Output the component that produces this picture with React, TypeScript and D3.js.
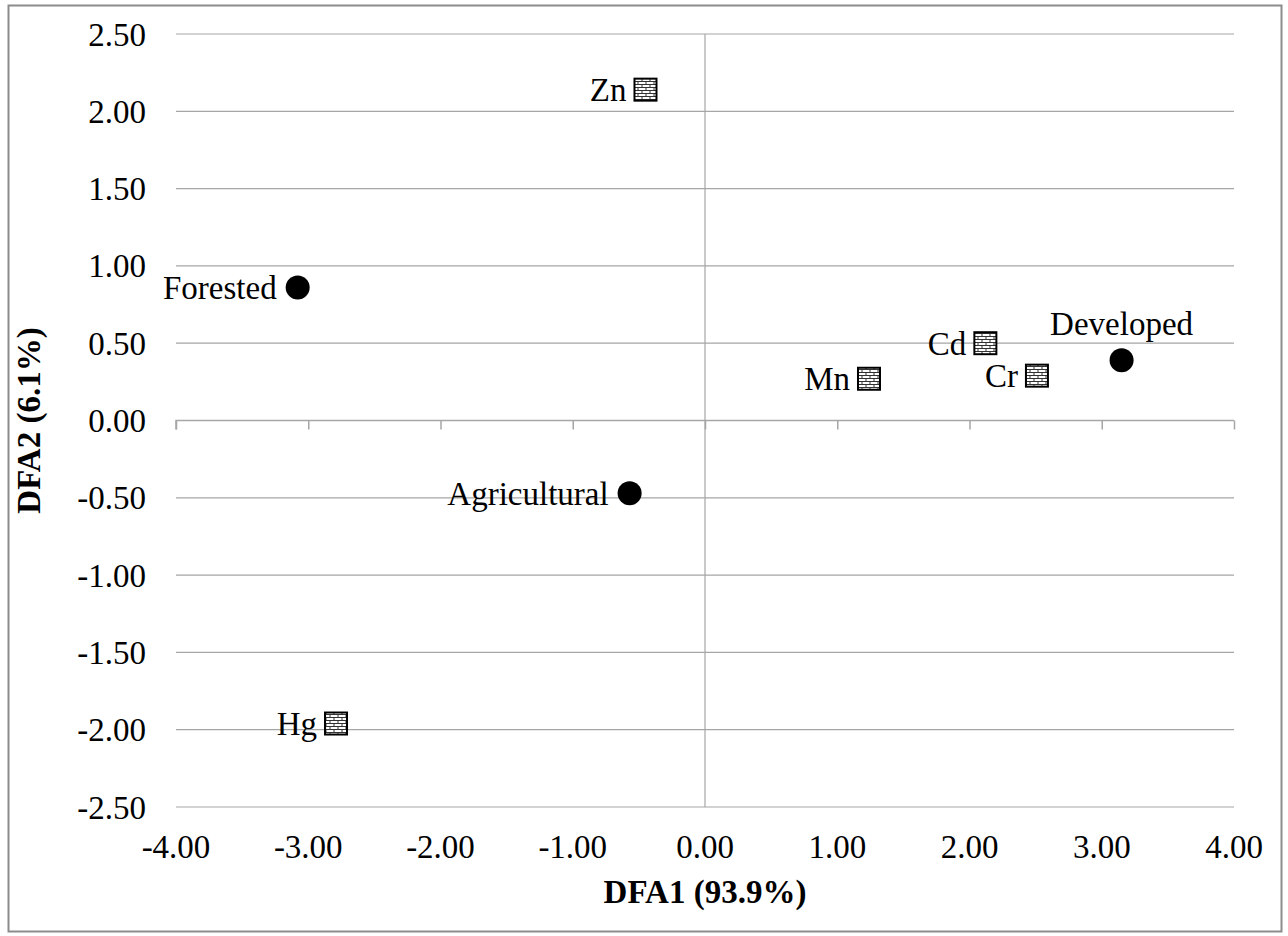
import React, { useRef, useEffect } from 'react';
import * as d3 from 'd3';

const groupNames = ['Forested', 'Agricultural', 'Developed'];
const groupX = [-3.08, -0.57, 3.15];
const groupY = [0.86, -0.47, 0.39];

const metalNames = ['Zn', 'Cd', 'Mn', 'Cr', 'Hg'];
const metalX = [-0.45, 2.12, 1.24, 2.51, -2.79];
const metalY = [2.14, 0.5, 0.27, 0.29, -1.96];

const xTicks = [-4, -3, -2, -1, 0, 1, 2, 3, 4];
const yTicks = [2.5, 2, 1.5, 1, 0.5, 0, -0.5, -1, -1.5, -2, -2.5];

const xTitle = 'DFA1 (93.9%)';
const yTitle = 'DFA2 (6.1%)';

const fmt = (d: number) => d3.format('.2f')(d).replace('\u2212', '-');

const App = () => {
    const ref = useRef<SVGSVGElement>(null);

    useEffect(() => {
        const svg = d3.select(ref.current);
        svg.selectAll('*').remove();
        const font = '"Liberation Serif", "Times New Roman", serif';
        const fs = 33;

        const x = d3.scaleLinear().domain([-4, 4]).range([176, 1234]);
        const y = d3.scaleLinear().domain([-2.5, 2.5]).range([807, 34]);

        // brick fill for the metal markers
        const defs = svg.append('defs');
        const pat = defs.append('pattern')
            .attr('id', 'brick')
            .attr('patternUnits', 'userSpaceOnUse')
            .attr('width', 8).attr('height', 6);
        pat.append('rect').attr('width', 8).attr('height', 6).attr('fill', '#fff');
        pat.append('path')
            .attr('d', 'M0,0.5H8M0,3.5H8M2,0.5V3.5M6,3.5V6.5')
            .attr('stroke', '#333').attr('stroke-width', 1).attr('fill', 'none');

        svg.append('rect').attr('width', 1288).attr('height', 936).attr('fill', '#fff');
        // outer border
        svg.append('rect')
            .attr('x', 8.5).attr('y', 5.5)
            .attr('width', 1273).attr('height', 926)
            .attr('fill', '#fff').attr('stroke', '#8c8c8c').attr('stroke-width', 2);

        // horizontal gridlines
        svg.append('g').selectAll('line')
            .data(yTicks.filter(d => d !== 0))
            .enter().append('line')
            .attr('x1', x(-4)).attr('x2', x(4))
            .attr('y1', d => y(d)).attr('y2', d => y(d))
            .attr('stroke', '#a6a6a6').attr('stroke-width', 1.2);

        // x axis through y = 0
        const xAxis = svg.append('g')
            .attr('transform', `translate(0,${y(0)})`)
            .call(d3.axisBottom(x).tickValues(xTicks).tickSize(9).tickFormat(() => ''));
        xAxis.selectAll('line, path').attr('stroke', '#a6a6a6').attr('stroke-width', 1.5);
        xAxis.select('.domain').attr('d', `M${x(-4)},9V0H${x(4)}`);

        // y axis through x = 0
        svg.append('line')
            .attr('x1', x(0)).attr('x2', x(0))
            .attr('y1', y(2.5)).attr('y2', y(-2.5))
            .attr('stroke', '#a6a6a6').attr('stroke-width', 1.2);

        // tick labels
        svg.append('g').selectAll('text')
            .data(yTicks)
            .enter().append('text')
            .attr('x', 146).attr('y', d => y(d))
            .attr('dy', '0.35em')
            .attr('text-anchor', 'end')
            .attr('font-family', font).attr('font-size', fs)
            .text(d => fmt(d));

        svg.append('g').selectAll('text')
            .data(xTicks)
            .enter().append('text')
            .attr('x', d => x(d)).attr('y', 858)
            .attr('text-anchor', 'middle')
            .attr('font-family', font).attr('font-size', fs)
            .text(d => fmt(d));

        // axis titles
        svg.append('text')
            .attr('x', x(0)).attr('y', 903)
            .attr('text-anchor', 'middle')
            .attr('font-family', font).attr('font-size', fs).attr('font-weight', 'bold')
            .text(xTitle);
        svg.append('text')
            .attr('transform', `translate(40,${y(0)}) rotate(-90)`)
            .attr('text-anchor', 'middle')
            .attr('font-family', font).attr('font-size', fs).attr('font-weight', 'bold')
            .text(yTitle);

        // group centroids
        const groups = groupNames.map((n, i) => ({ n, x: groupX[i], y: groupY[i] }));
        svg.append('g').selectAll('circle')
            .data(groups)
            .enter().append('circle')
            .attr('cx', d => x(d.x)).attr('cy', d => y(d.y))
            .attr('r', 12).attr('fill', '#000');
        svg.append('g').selectAll('text')
            .data(groups)
            .enter().append('text')
            .attr('x', d => d.n === 'Developed' ? x(d.x) : x(d.x) - 21)
            .attr('y', d => d.n === 'Developed' ? y(d.y) - 25 : y(d.y))
            .attr('dy', d => d.n === 'Developed' ? 0 : '0.35em')
            .attr('text-anchor', d => d.n === 'Developed' ? 'middle' : 'end')
            .attr('font-family', font).attr('font-size', fs)
            .text(d => d.n);

        // metal loadings
        const metals = metalNames.map((n, i) => ({ n, x: metalX[i], y: metalY[i] }));
        svg.append('g').selectAll('rect.m')
            .data(metals)
            .enter().append('rect')
            .attr('class', 'm')
            .attr('x', d => x(d.x) - 11).attr('y', d => y(d.y) - 11)
            .attr('width', 22).attr('height', 22)
            .attr('fill', 'url(#brick)').attr('stroke', '#000').attr('stroke-width', 2);
        svg.append('g').selectAll('text')
            .data(metals)
            .enter().append('text')
            .attr('x', d => x(d.x) - 19).attr('y', d => y(d.y))
            .attr('dy', '0.35em')
            .attr('text-anchor', 'end')
            .attr('font-family', font).attr('font-size', fs)
            .text(d => d.n);
    }, []);

    return (
        <svg ref={ref} width="1288" height="936"
            style={{ position: 'absolute', left: 0, top: 0, display: 'block' }}></svg>
    );
};

export default App;
